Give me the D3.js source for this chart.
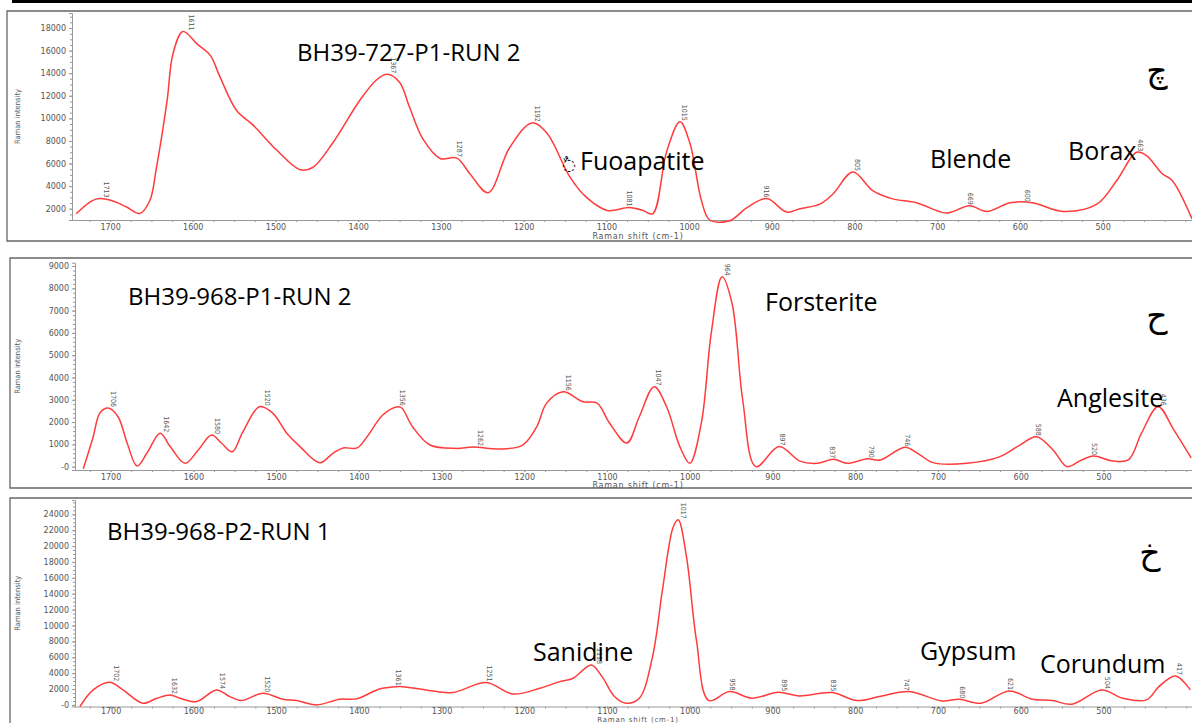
<!DOCTYPE html>
<html>
<head>
<meta charset="utf-8">
<script src="https://cdn.jsdelivr.net/npm/d3@7"></script>
<style>
  body { margin: 0; background: #fff; }
  svg { display: block; }
  .tick text { font-family: "DejaVu Sans", sans-serif; font-size: 8px; fill: #555; }
  .peak { font-family: "Liberation Sans Narrow", "DejaVu Sans Condensed", sans-serif; font-size: 7px; fill: #555; }
  .note { font-family: "Open Sans", sans-serif; fill: #000; }
</style>
</head>
<body>
<svg id="chart" width="1192" height="723"></svg>
<script>
// --- panel 1 : BH39-727-P1-RUN 2 ---
const p1Shift = [1741, 1722, 1712, 1694, 1680, 1664, 1652, 1644, 1631, 1624, 1612, 1595, 1579, 1567, 1547, 1527,
  1498, 1470, 1455, 1431, 1398, 1378, 1365, 1350, 1338, 1322, 1301, 1281, 1265, 1243, 1217, 1190, 1172, 1144,
  1124, 1099, 1072, 1056, 1044, 1027, 1011, 999, 985, 975, 951, 930, 906, 882, 866, 842, 826, 802, 778, 754,
  725, 689, 661, 640, 612, 585, 548, 507, 483, 459, 447, 428, 416, 392];
const p1Intensity = [1550, 2700, 2900, 2620, 2150, 1580, 2700, 5600, 11600, 15700, 17700, 16600, 15600, 13650, 10700, 9400,
  7150, 5450, 5650, 7800, 11600, 13400, 13900, 13200, 11000, 8200, 6450, 6500, 5100, 3420, 7400, 9600, 8700, 4800,
  3000, 1850, 2100, 1850, 1550, 7100, 9700, 7800, 2700, 1000, 930, 2100, 2900, 1700, 2000, 2400, 3300, 5250, 3600, 2870,
  2530, 1620, 2270, 1760, 2530, 2530, 1760, 2400, 4500, 7000, 6700, 5100, 4500, 1100];
const p1PeakShift = [1713, 1611, 1367, 1287, 1192, 1081, 1015, 916, 805, 669, 600, 463];
const p1PeakHeight = [2900, 17700, 13900, 6500, 9600, 2100, 9700, 2900, 5250, 2270, 2530, 7000];
const p1YTicks = [2000, 4000, 6000, 8000, 10000, 12000, 14000, 16000, 18000];

// --- panel 2 : BH39-968-P1-RUN 2 ---
const p2Shift = [1733, 1721, 1713, 1703, 1691, 1680, 1668, 1656, 1640, 1628, 1610, 1594, 1578, 1566, 1553, 1540,
  1520, 1504, 1487, 1471, 1447, 1431, 1419, 1402, 1390, 1371, 1353, 1348, 1335, 1314, 1282, 1262, 1229, 1202,
  1185, 1173, 1153, 1129, 1112, 1097, 1076, 1061, 1043, 1028, 1012, 1000, 986, 974, 961, 949, 936, 920, 892,
  867, 846, 826, 810, 785, 770, 740, 725, 706, 665, 625, 601, 581, 561, 544, 528, 512, 491, 470, 454, 434, 415, 394];
const p2Intensity = [-100, 1345, 2400, 2630, 2240, 1060, 30, 610, 1500, 900, 150, 750, 1420, 1060, 670, 1570,
  2690, 2400, 1500, 900, 180, 610, 840, 840, 1345, 2320, 2690, 2630, 1790, 970, 820, 880, 790, 970,
  1790, 2850, 3360, 2910, 2850, 1960, 1060, 2240, 3590, 2690, 900, 150, 1960, 6000, 8520, 7340, 2990, 0, 900,
  250, 150, 330, 150, 350, 300, 870, 610, 180, 150, 450, 970, 1345, 750, 0, 270, 480, 270, 300, 1500, 2690, 1650, 390];
const p2PeakShift = [1706, 1642, 1580, 1520, 1356, 1262, 1156, 1047, 964, 897, 837, 790, 746, 588, 520, 436];
const p2PeakHeight = [2630, 1500, 1420, 2690, 2690, 880, 3360, 3590, 8520, 900, 330, 350, 870, 1345, 480, 2690];
const p2YTicks = [0, 1000, 2000, 3000, 4000, 5000, 6000, 7000, 8000, 9000];

// --- panel 3 : BH39-968-P2-RUN 1 ---
const p3Shift = [1737, 1721, 1701, 1685, 1661, 1644, 1628, 1616, 1596, 1572, 1556, 1542, 1516, 1492, 1475, 1451,
  1423, 1403, 1375, 1355, 1347, 1319, 1287, 1246, 1214, 1181, 1157, 1141, 1119, 1106, 1091, 1077, 1061, 1045,
  1033, 1020, 1014, 1004, 992, 977, 952, 925, 893, 868, 828, 798, 771, 735, 695, 674, 648, 614, 586, 562, 538,
  502, 477, 448, 433, 413, 395];
const p3Intensity = [-200, 1890, 2850, 1890, 210, 840, 1260, 840, 420, 1890, 1050, 550, 1470, 720, 550, 0,
  720, 760, 2010, 2300, 2300, 1890, 1550, 2810, 1380, 2100, 2930, 3360, 5030, 3560, 1050, 210, 840, 6080,
  14470, 22400, 23300, 18660, 8180, 550, 1680, 840, 1590, 1130, 1550, 550, 1050, 1680, 500, 720, 210, 1760, 720, 550, 90,
  1890, 840, 630, 2300, 3650, 1890];
const p3PeakShift = [1702, 1632, 1574, 1520, 1361, 1251, 1118, 1017, 958, 895, 835, 747, 680, 621, 504, 417];
const p3PeakHeight = [2850, 1260, 1890, 1470, 2300, 2810, 5030, 23300, 1680, 1590, 1550, 1680, 720, 1760, 1890, 3650];
const p3YTicks = [0, 2000, 4000, 6000, 8000, 10000, 12000, 14000, 16000, 18000, 20000, 22000, 24000];

const xMajor = d3.range(500, 1701, 100);
const xMinor = d3.range(400, 1750, 25);

const W = 1192, H = 723;
const svg = d3.select('#chart');

// thick rule at the very top
svg.append('line')
  .attr('x1', 12).attr('x2', W).attr('y1', 1.5).attr('y2', 1.5)
  .attr('stroke', '#000').attr('stroke-width', 3);

const panels = [
  {
    shift: p1Shift, intensity: p1Intensity, peakShift: p1PeakShift, peakHeight: p1PeakHeight,
    yTicks: p1YTicks, yMinorStep: 500,
    frame: { left: 7, top: 11, bottom: 241 },
    axisX: 72, xDomain: [1746, 392], yTop: 13, yBottom: 220, yDomain: [1000, 19330],
    tickPad: 2, titleY: 239, titleSize: 8,
    notes: [
      { text: 'BH39-727-P1-RUN 2', x: 297, y: 61, size: 24 },
      { text: 'Blende', x: 930, y: 168, size: 25 },
      { text: 'Borax', x: 1068, y: 160, size: 25 }
    ],
    mark: { text: 'چ', x: 1157, y: 82 }
  },
  {
    shift: p2Shift, intensity: p2Intensity, peakShift: p2PeakShift, peakHeight: p2PeakHeight,
    yTicks: p2YTicks, yMinorStep: 200,
    frame: { left: 10, top: 258, bottom: 488 },
    axisX: 75, xDomain: [1743, 393], yTop: 262.7, yBottom: 470, yDomain: [-150, 9150],
    tickPad: 2, titleY: 488, titleSize: 8,
    notes: [
      { text: 'BH39-968-P1-RUN 2', x: 128, y: 305, size: 24 },
      { text: 'Forsterite', x: 765, y: 311, size: 25 },
      { text: 'Anglesite', x: 1057, y: 407, size: 25 }
    ],
    mark: { text: 'ح', x: 1157, y: 327 }
  },
  {
    shift: p3Shift, intensity: p3Intensity, peakShift: p3PeakShift, peakHeight: p3PeakHeight,
    yTicks: p3YTicks, yMinorStep: 500,
    frame: { left: 10, top: 498, bottom: 740 },
    axisX: 75, xDomain: [1743, 393], yTop: 500, yBottom: 706.5, yDomain: [-200, 25800],
    tickPad: 0, titleY: 721.5, titleSize: 7,
    notes: [
      { text: 'BH39-968-P2-RUN 1', x: 107, y: 540, size: 24 },
      { text: 'Sanidine', x: 533, y: 661, size: 25 },
      { text: 'Gypsum', x: 920, y: 660, size: 25 },
      { text: 'Corundum', x: 1040, y: 673, size: 25 }
    ],
    mark: { text: 'خ', x: 1150, y: 564 }
  }
];

panels.forEach((p, i) => {
  const g = svg.append('g');

  // open frame (right side runs off the page)
  g.append('path')
    .attr('d', `M${W + 5},${p.frame.top}H${p.frame.left}V${p.frame.bottom}H${W + 5}`)
    .attr('fill', 'none').attr('stroke', '#666').attr('stroke-width', 1.3);

  const x = d3.scaleLinear().domain(p.xDomain).range([p.axisX, W]);
  const y = d3.scaleLinear().domain(p.yDomain).range([p.yBottom, p.yTop]);

  // y axis: minor then major
  const yMinor = d3.range(Math.ceil(p.yDomain[0] / p.yMinorStep) * p.yMinorStep, p.yDomain[1], p.yMinorStep);
  g.append('g')
    .attr('transform', `translate(${p.axisX},0)`)
    .call(d3.axisLeft(y).tickValues(yMinor).tickSize(2).tickFormat(''))
    .call(a => a.select('.domain').remove())
    .call(a => a.selectAll('line').attr('stroke', '#999'));
  g.append('g')
    .attr('transform', `translate(${p.axisX},0)`)
    .call(d3.axisLeft(y).tickValues(p.yTicks).tickSize(3).tickPadding(3)
      .tickFormat(d => d === 0 ? '-0' : d3.format('d')(d)))
    .call(a => a.select('.domain').attr('stroke', '#999'))
    .call(a => a.selectAll('line').attr('stroke', '#999'));

  // x axis
  g.append('g')
    .attr('transform', `translate(0,${p.yBottom})`)
    .call(d3.axisBottom(x).tickValues(xMinor).tickSize(2).tickFormat(''))
    .call(a => a.select('.domain').remove())
    .call(a => a.selectAll('line').attr('stroke', '#999'));
  g.append('g')
    .attr('transform', `translate(0,${p.yBottom})`)
    .call(d3.axisBottom(x).tickValues(xMajor).tickSize(2).tickPadding(p.tickPad).tickSizeOuter(0)
      .tickFormat(d3.format('d')))
    .call(a => a.select('.domain').attr('stroke', '#999'))
    .call(a => a.selectAll('line').attr('stroke', '#999'));

  g.append('text')
    .attr('x', 638).attr('y', p.titleY)
    .attr('text-anchor', 'middle')
    .style('font-family', '"DejaVu Sans", sans-serif').style('font-size', p.titleSize + 'px')
    .style('letter-spacing', '0.8px').style('fill', '#555')
    .text('Raman shift (cm-1)');

  const yMid = (p.yTop + p.yBottom) / 2;
  g.append('text')
    .attr('transform', `translate(20,${yMid}) rotate(-90)`)
    .attr('text-anchor', 'middle')
    .style('font-family', '"Liberation Sans Narrow", "DejaVu Sans Condensed", sans-serif')
    .style('font-size', '7.5px').style('fill', '#555')
    .text('Raman intensity');

  // spectrum
  const clipId = 'clip' + i;
  g.append('clipPath').attr('id', clipId)
    .append('rect').attr('x', p.axisX).attr('y', p.yTop - 5)
    .attr('width', W - p.axisX).attr('height', p.yBottom - p.yTop + 8);

  const pts = p.shift.map((s, k) => [s, p.intensity[k]]);
  const line = d3.line()
    .x(d => x(d[0])).y(d => y(d[1]))
    .curve(d3.curveCatmullRom.alpha(0.5));
  g.append('path')
    .datum(pts)
    .attr('clip-path', `url(#${clipId})`)
    .attr('d', line)
    .attr('fill', 'none').attr('stroke', '#ff3b3b').attr('stroke-width', 1.5);

  // peak labels
  g.selectAll('.peak')
    .data(p.peakShift.map((s, k) => [s, p.peakHeight[k]]))
    .enter().append('text')
    .attr('class', 'peak')
    .attr('text-anchor', 'end')
    .attr('transform', d => `translate(${x(d[0]) + 5},${y(d[1]) - 1}) rotate(90)`)
    .text(d => d[0]);

  // annotations
  p.notes.forEach(n => {
    g.append('text').attr('class', 'note')
      .attr('x', n.x).attr('y', n.y)
      .style('font-size', n.size + 'px')
      .text(n.text);
  });
  g.append('text')
    .attr('x', p.mark.x).attr('y', p.mark.y)
    .attr('text-anchor', 'middle')
    .style('font-family', '"DejaVu Sans", sans-serif').style('font-size', '33px')
    .style('fill', '#000')
    .text(p.mark.text);

  if (i === 0) {
    const t = g.append('text').attr('class', 'note').attr('x', 562).attr('y', 170);
    t.append('tspan').style('font-family', '"DejaVu Sans", sans-serif').style('font-size', '16px')
      .text('\u25CC\u064C');
    t.append('tspan').attr('x', 580).style('font-size', '25px').text('Fuoapatite');
  }
});
</script>
</body>
</html>
